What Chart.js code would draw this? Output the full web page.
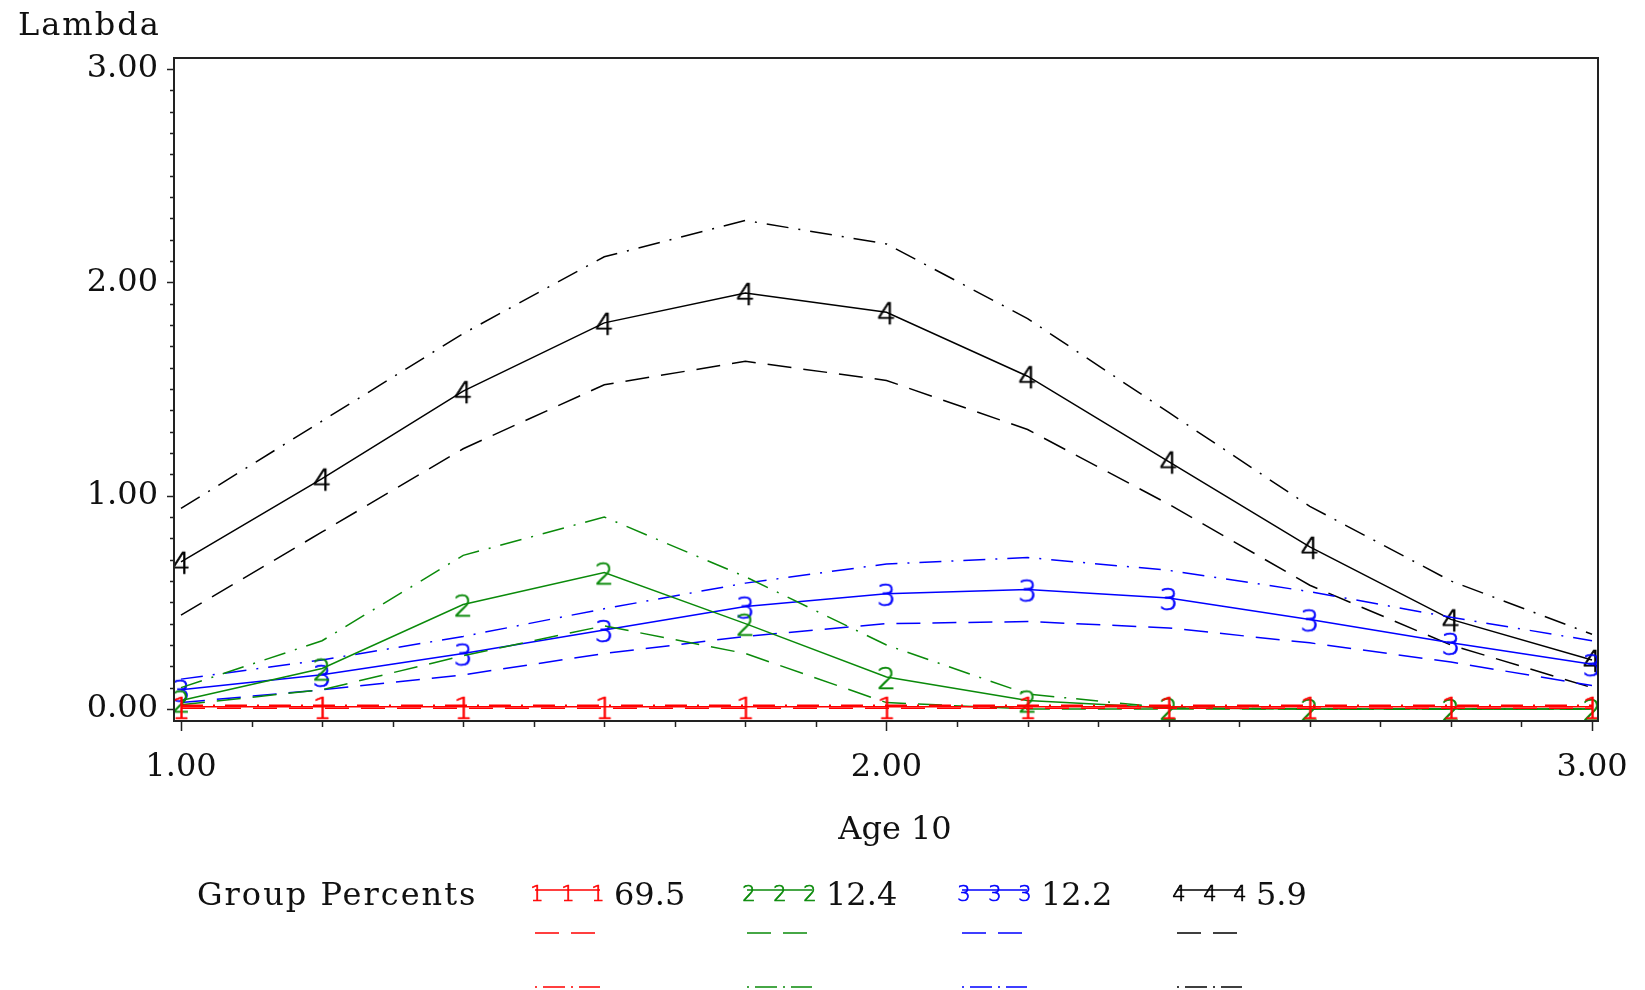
<!DOCTYPE html>
<html>
<head>
<meta charset="utf-8">
<title>Lambda by Age 10</title>
<script src="https://cdn.jsdelivr.net/npm/chart.js@4.4.1/dist/chart.umd.min.js"></script>
<style>
  html, body { margin: 0; padding: 0; background: #ffffff; }
  canvas { display: block; }
</style>
</head>
<body>
<canvas id="chart" width="1645" height="990"></canvas>
<script>
// Age values at which each trajectory is evaluated
const ages = [1.0, 1.2, 1.4, 1.6, 1.8, 2.0, 2.2, 2.4, 2.6, 2.8, 3.0];

// Group 1 (69.5%): estimate, lower and upper bound
const g1Est  = [0.010, 0.010, 0.010, 0.010, 0.010, 0.010, 0.010, 0.010, 0.010, 0.010, 0.010];
const g1Low  = [0.004, 0.004, 0.004, 0.004, 0.004, 0.004, 0.004, 0.004, 0.004, 0.004, 0.004];
const g1High = [0.018, 0.018, 0.018, 0.018, 0.018, 0.018, 0.018, 0.018, 0.018, 0.018, 0.018];

// Group 2 (12.4%)
const g2Est  = [0.04, 0.19, 0.49, 0.64, 0.40, 0.15, 0.04, 0.005, 0.0, 0.0, 0.0];
const g2Low  = [0.02, 0.09, 0.25, 0.39, 0.26, 0.03, 0.00, 0.0, 0.0, 0.0, 0.0];
const g2High = [0.10, 0.32, 0.72, 0.90, 0.62, 0.30, 0.07, 0.005, 0.0, 0.0, 0.0];

// Group 3 (12.2%)
const g3Est  = [0.09, 0.16, 0.26, 0.37, 0.48, 0.54, 0.56, 0.52, 0.42, 0.31, 0.21];
const g3Low  = [0.03, 0.09, 0.16, 0.26, 0.34, 0.40, 0.41, 0.38, 0.31, 0.22, 0.11];
const g3High = [0.14, 0.23, 0.34, 0.47, 0.59, 0.68, 0.71, 0.65, 0.55, 0.43, 0.32];

// Group 4 (5.9%)
const g4Est  = [0.69, 1.08, 1.49, 1.81, 1.95, 1.86, 1.56, 1.16, 0.76, 0.42, 0.23];
const g4Low  = [0.44, 0.83, 1.22, 1.52, 1.63, 1.54, 1.31, 0.96, 0.58, 0.30, 0.10];
const g4High = [0.94, 1.35, 1.76, 2.12, 2.29, 2.18, 1.83, 1.39, 0.95, 0.60, 0.35];

const groupSymbols  = ['1', '2', '3', '4'];
const groupPercents = ['69.5', '12.4', '12.2', '5.9'];
const groupColors   = ['#ff0000', '#0a8a0a', '#0000ff', '#000000'];

// Labelled tick values; minor ticks fall every 0.1 between them
const xLabelled = [1, 2, 3];
const yLabelled = [0, 1, 2, 3];

const SERIF = "'DejaVu Serif', 'Liberation Serif', serif";
const DASHED = [24, 12];
const DASHDOT = [22, 10, 2, 10];

// Digit markers used as point styles (glyph sits slightly below the point)
function makeSymbol(ch, color, size, w, h, drop) {
  const c = document.createElement('canvas');
  c.width = w; c.height = h;
  const ctx = c.getContext('2d');
  ctx.fillStyle = color;
  ctx.strokeStyle = color;
  ctx.lineWidth = 0.7;
  ctx.font = '200 ' + size + "px 'DejaVu Sans', sans-serif";
  ctx.textAlign = 'center';
  ctx.textBaseline = 'middle';
  ctx.fillText(ch, w / 2, h / 2 + drop);
  ctx.strokeText(ch, w / 2, h / 2 + drop);
  return c;
}
const plotSymbols = groupSymbols.map((s, i) => makeSymbol(s, groupColors[i], 30, 22, 40, 4));
const legendSymbols = groupSymbols.map((s, i) => makeSymbol(s, groupColors[i], 21, 16, 24, 1));

function pts(values) {
  return ages.map((a, i) => ({ x: a, y: values[i] }));
}

const groups = [
  [g1Est, g1Low, g1High],
  [g2Est, g2Low, g2High],
  [g3Est, g3Low, g3High],
  [g4Est, g4Low, g4High]
];

const datasets = [];
groups.forEach((g, gi) => {
  const color = groupColors[gi];
  datasets.push({
    label: groupPercents[gi],
    data: pts(g[0]),
    borderColor: color,
    borderWidth: 1.5,
    pointStyle: plotSymbols[gi],
    pointRadius: 4,
    pointHoverRadius: 4,
    tension: 0,
    fill: false
  });
  datasets.push({
    label: groupPercents[gi] + ' lower',
    data: pts(g[1]),
    borderColor: color,
    borderWidth: 1.5,
    borderDash: DASHED,
    pointRadius: 0,
    tension: 0,
    fill: false
  });
  datasets.push({
    label: groupPercents[gi] + ' upper',
    data: pts(g[2]),
    borderColor: color,
    borderWidth: 1.5,
    borderDash: DASHDOT,
    pointRadius: 0,
    tension: 0,
    fill: false
  });
});

function isLabelled(v, list) {
  return list.some(t => Math.abs(t - v) < 1e-6);
}

// Frame, outward tick marks, titles and the group legend
const decorations = {
  id: 'decorations',
  afterDraw(chart) {
    const ctx = chart.ctx;
    const area = chart.chartArea;
    const xs = chart.scales.x;
    const ys = chart.scales.y;
    ctx.save();

    ctx.strokeStyle = '#222';
    ctx.lineWidth = 2;
    ctx.strokeRect(area.left, area.top, area.right - area.left, area.bottom - area.top);

    ctx.lineWidth = 1.5;
    ctx.beginPath();
    xs.ticks.forEach(t => {
      const px = Math.round(xs.getPixelForValue(t.value)) + 0.5;
      const len = isLabelled(t.value, xLabelled) ? 10 : 6;
      ctx.moveTo(px, area.bottom);
      ctx.lineTo(px, area.bottom + len);
    });
    ys.ticks.forEach(t => {
      const py = Math.round(ys.getPixelForValue(t.value)) + 0.5;
      const len = isLabelled(t.value, yLabelled) ? 7 : 4;
      ctx.moveTo(area.left, py);
      ctx.lineTo(area.left - len, py);
    });
    ctx.stroke();

    ctx.fillStyle = '#111';
    ctx.font = '32px ' + SERIF;
    ctx.textBaseline = 'middle';
    ctx.textAlign = 'center';
    ctx.fillText('Age 10', 895, 831);

    ctx.textAlign = 'left';
    ctx.letterSpacing = '2px';
    ctx.fillText('Lambda', 18, 27);
    ctx.fillText('Group Percents', 197, 897);
    ctx.letterSpacing = '0px';

    const sampleX = [535, 747, 962, 1177];
    const sampleW = 65;
    const rowY = [890, 933, 987];
    groupColors.forEach((color, gi) => {
      const x0 = sampleX[gi];
      ctx.strokeStyle = color;
      ctx.lineWidth = 1.5;
      [[], DASHED, [2, 6, 22, 6]].forEach((dash, ri) => {
        ctx.setLineDash(dash);
        ctx.beginPath();
        ctx.moveTo(x0, rowY[ri]);
        ctx.lineTo(x0 + sampleW, rowY[ri]);
        ctx.stroke();
      });
      ctx.setLineDash([]);
      const sym = legendSymbols[gi];
      [2, 33, 63].forEach(dx => {
        ctx.drawImage(sym, x0 + dx - sym.width / 2, rowY[0] + 5 - sym.height / 2);
      });
      ctx.fillStyle = '#111';
      ctx.fillText(groupPercents[gi], x0 + 79, 897);
    });

    ctx.restore();
  }
};

new Chart(document.getElementById('chart'), {
  type: 'line',
  data: { datasets },
  options: {
    responsive: false,
    animation: false,
    devicePixelRatio: 1,
    layout: { padding: { top: 58, right: 47, bottom: 0, left: 0 } },
    plugins: {
      legend: { display: false },
      tooltip: { enabled: false },
      title: { display: false }
    },
    scales: {
      x: {
        type: 'linear',
        min: 0.9901,
        max: 3.0085,
        grid: { display: false, drawTicks: false },
        border: { display: false },
        afterFit(scale) {
          scale.height = 269;
          scale.paddingLeft = 0;
          scale.paddingRight = 0;
        },
        ticks: {
          stepSize: 0.1,
          includeBounds: false,
          autoSkip: false,
          maxRotation: 0,
          padding: 27,
          color: '#111',
          font: { family: SERIF, size: 32 },
          callback: v => isLabelled(v, xLabelled) ? Number(v).toFixed(2) : ''
        }
      },
      y: {
        type: 'linear',
        min: -0.0563,
        max: 3.0516,
        grid: { display: false, drawTicks: false },
        border: { display: false },
        afterFit(scale) {
          scale.width = 174;
          scale.paddingTop = 0;
          scale.paddingBottom = 0;
        },
        ticks: {
          stepSize: 0.1,
          includeBounds: false,
          autoSkip: false,
          padding: 16,
          color: '#111',
          font: { family: SERIF, size: 32 },
          callback: v => isLabelled(v, yLabelled) ? Number(v).toFixed(2) : ''
        }
      }
    }
  },
  plugins: [decorations]
});
</script>
</body>
</html>
